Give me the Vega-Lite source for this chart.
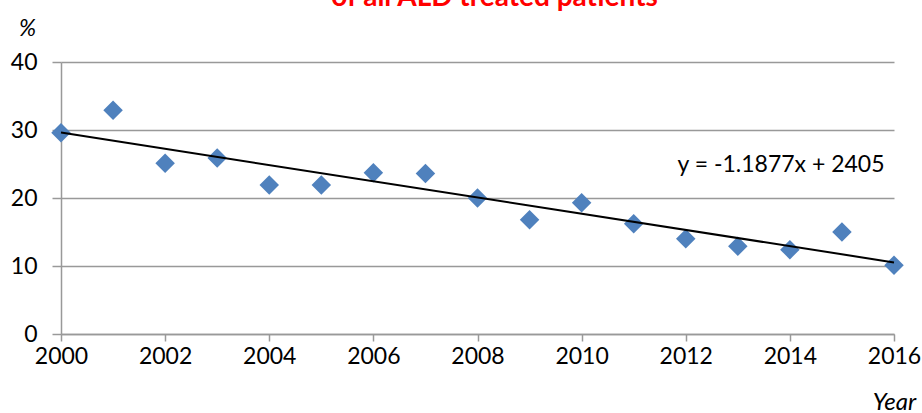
{
  "$schema": "https://vega.github.io/schema/vega-lite/v6.json",
  "width": 833,
  "height": 272,
  "autosize": "none",
  "padding": {"left": 61, "top": 62, "right": 28, "bottom": 79},
  "background": "white",
  "config": {"font": "Lato", "view": {"stroke": null}},
  "title": {"text": "of all ALD treated patients", "color": "#FF0000", "fontSize": 28, "fontWeight": "bold", "font": "Lato", "anchor": "middle", "dx": 17, "baseline": "alphabetic", "offset": 0, "dy": 17},
  "datasets": {
    "pts": [
      {"year": 2000, "pct": 29.6},
      {"year": 2001, "pct": 32.9},
      {"year": 2002, "pct": 25.1},
      {"year": 2003, "pct": 25.9},
      {"year": 2004, "pct": 21.9},
      {"year": 2005, "pct": 21.9},
      {"year": 2006, "pct": 23.7},
      {"year": 2007, "pct": 23.6},
      {"year": 2008, "pct": 20.0},
      {"year": 2009, "pct": 16.8},
      {"year": 2010, "pct": 19.3},
      {"year": 2011, "pct": 16.2},
      {"year": 2012, "pct": 14.0},
      {"year": 2013, "pct": 12.9},
      {"year": 2014, "pct": 12.4},
      {"year": 2015, "pct": 15.0},
      {"year": 2016, "pct": 10.1}
    ],
    "label": [{"year": 2013.83, "pct": 24.85, "text": "y = -1.1877x + 2405"}]
  },
  "layer": [
    {
      "data": {"name": "pts"},
      "mark": {"type": "point", "shape": "diamond", "filled": true, "color": "#4F81BD", "opacity": 1, "size": 380},
      "encoding": {
        "x": {"field": "year", "type": "quantitative", "scale": {"domain": [2000, 2016], "nice": false, "zero": false},
          "axis": {"values": [2000, 2002, 2004, 2006, 2008, 2010, 2012, 2014, 2016], "format": "d", "grid": false, "labelFontSize": 23, "labelColor": "#000", "labelPadding": 4, "tickSize": 7, "tickColor": "#999", "domainColor": "#999", "domainWidth": 1.5, "tickWidth": 1.5,
            "title": "Year", "titleFontSize": 24, "titleFontStyle": "italic", "titleFontWeight": "normal", "titleColor": "#000", "titleX": 833, "titleY": 68, "titleAlign": "center", "titleBaseline": "middle", "labelFlush": false}},
        "y": {"field": "pct", "type": "quantitative", "scale": {"domain": [0, 40], "nice": false},
          "axis": {"values": [0, 10, 20, 30, 40], "grid": true, "gridColor": "#999", "gridWidth": 1.5, "labelFontSize": 23, "labelColor": "#000", "labelPadding": 15, "tickSize": 9, "tickColor": "#999", "tickWidth": 1.5, "domainColor": "#999", "domainWidth": 1.5,
            "title": "%", "titleAngle": 0, "titleFontSize": 23, "titleFontStyle": "italic", "titleFontWeight": "normal", "titleColor": "#000", "titleX": -34, "titleY": -34, "titleAlign": "center", "titleBaseline": "middle", "labelFlush": false}}
      }
    },
    {
      "data": {"name": "pts"},
      "transform": [{"regression": "pct", "on": "year", "extent": [2000, 2016]}],
      "mark": {"type": "line", "color": "#000", "strokeWidth": 2},
      "encoding": {
        "x": {"field": "year", "type": "quantitative"},
        "y": {"field": "pct", "type": "quantitative"}
      }
    },
    {
      "data": {"name": "label"},
      "mark": {"type": "text", "fontSize": 23, "color": "#000", "align": "center", "baseline": "middle", "font": "Lato"},
      "encoding": {
        "x": {"field": "year", "type": "quantitative"},
        "y": {"field": "pct", "type": "quantitative"},
        "text": {"field": "text"}
      }
    }
  ]
}
